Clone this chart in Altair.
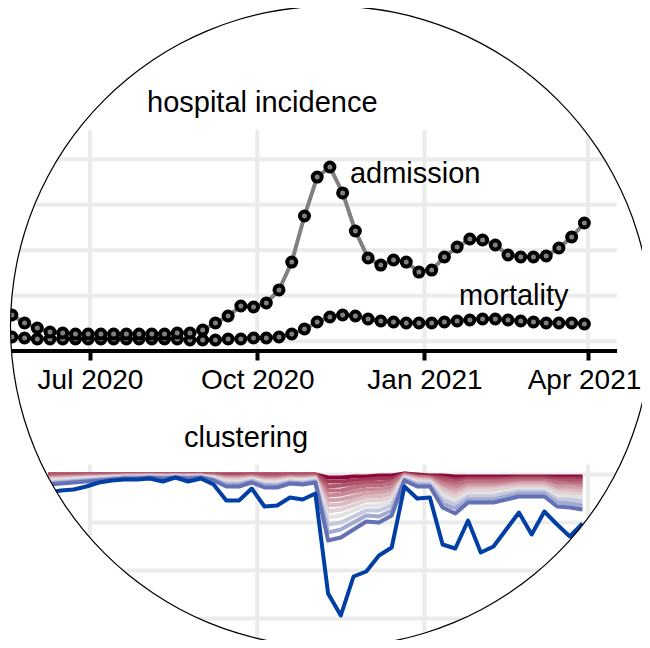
import altair as alt
import pandas as pd

FONT = "Liberation Sans, Arial, Helvetica, sans-serif"
GRID = "#ebebeb"
W, H = 634, 632

# ---------------- top panel: hospital incidence (weekly) ----------------
top_start = "2020-05-19"
admission = [28.8, 20.0, 14.5, 10.1, 9.0, 7.9, 7.9, 7.9, 7.9, 7.9, 7.9, 7.9, 7.9, 9.0,
             9.0, 12.3, 20.0, 27.7, 38.7, 37.6, 42.0, 56.3, 87.0, 137.6, 180.4, 191.4,
             162.9, 121.1, 91.4, 83.7, 89.2, 87.0, 76.0, 78.2, 92.5, 103.5, 112.3, 111.2,
             105.7, 94.7, 92.5, 92.5, 93.6, 102.4, 114.5, 129.9]
mortality = [4.6, 3.5, 2.4, 2.4, 2.4, 2.4, 2.4, 2.4, 2.4, 2.4, 2.4, 2.4, 2.4, 2.4,
             1.3, 1.3, 1.3, 2.4, 2.4, 3.5, 3.5, 4.6, 7.9, 13.4, 21.1, 26.6, 28.8, 27.7,
             24.4, 22.2, 21.1, 20.0, 20.0, 20.0, 21.1, 22.2, 23.3, 24.4, 24.4, 23.3,
             22.2, 21.1, 20.0, 20.0, 20.0, 18.9]

# ---------------- bottom panel: clustering (drop below upper bound) ----------------
bottom_start = "2020-06-08"
cluster_lines = {
    "q00": [0]*22 + [3, 3, 2, 2, 1, 1, -1, 0, 1, 1] + [2]*11,
    "q01": [0]*22 + [7, 7, 6, 5, 4, 4, -1, 1, 2, 3, 5, 4, 4, 4, 4, 3, 3, 3, 4, 4, 4],
    "q02": [0, 0, 0, 0, 0, 0, 0, 0, 0, 0, 0, 0, 0, 0, 1, 1, 0, 1, 1, 0, 0, 0, 12, 11, 9, 8, 8, 7, 0, 2, 3, 5, 7, 6, 6, 6, 5, 5, 5, 5, 6, 6, 7],
    "q03": [2, 2, 2, 1, 1, 1, 1, 1, 1, 1, 1, 1, 1, 1, 3, 3, 2, 3, 3, 2, 2, 2, 16, 16, 13, 11, 11, 9, 0, 3, 3, 8, 10, 7, 7, 7, 7, 6, 6, 6, 8, 9, 9],
    "q04": [3, 3, 2, 2, 2, 1, 1, 1, 1, 1, 1, 1, 1, 2, 3, 3, 2, 4, 4, 3, 3, 2, 21, 20, 17, 15, 15, 13, 1, 3, 4, 10, 13, 10, 10, 10, 9, 8, 8, 8, 11, 11, 12],
    "q05": [4, 3, 3, 3, 2, 2, 1, 1, 1, 1, 1, 1, 1, 2, 4, 4, 3, 5, 5, 3, 4, 3, 26, 25, 22, 19, 18, 16, 2, 4, 5, 13, 16, 12, 12, 12, 11, 9, 9, 9, 13, 13, 14],
    "q06": [5, 4, 4, 3, 3, 2, 2, 2, 1, 2, 1, 2, 1, 3, 5, 5, 4, 6, 6, 4, 5, 4, 31, 30, 26, 22, 22, 19, 2, 5, 6, 15, 19, 14, 14, 14, 12, 11, 11, 11, 16, 16, 17],
    "q07": [5, 5, 4, 4, 3, 3, 2, 2, 2, 2, 2, 2, 2, 3, 6, 6, 4, 7, 7, 5, 5, 4, 37, 35, 31, 26, 26, 23, 3, 6, 7, 18, 22, 16, 16, 16, 14, 13, 13, 13, 18, 19, 20],
    "q08": [6, 6, 5, 4, 4, 3, 3, 3, 2, 3, 2, 3, 2, 4, 8, 8, 5, 8, 8, 6, 6, 5, 43, 41, 36, 31, 31, 27, 3, 8, 8, 21, 26, 19, 19, 19, 17, 15, 15, 15, 21, 22, 23],
    "q09": [8, 7, 6, 5, 5, 4, 3, 3, 2, 3, 2, 3, 2, 5, 9, 9, 6, 10, 10, 7, 8, 6, 50, 48, 42, 36, 36, 31, 4, 9, 9, 25, 30, 22, 22, 22, 19, 17, 17, 17, 25, 25, 27],
    "q10": [9, 8, 7, 6, 5, 4, 3, 3, 3, 3, 3, 3, 3, 5, 10, 10, 7, 11, 11, 8, 9, 7, 58, 55, 48, 41, 42, 36, 5, 10, 11, 29, 34, 25, 25, 25, 22, 19, 19, 19, 28, 29, 31],
    "q11": [10, 9, 8, 7, 6, 5, 4, 4, 3, 4, 3, 4, 3, 6, 12, 12, 8, 13, 13, 9, 10, 8, 66, 63, 55, 47, 48, 41, 6, 12, 12, 33, 39, 28, 28, 28, 25, 22, 22, 22, 32, 33, 35],
    "q12": [18, 16, 15, 12, 8, 6, 5, 5, 4, 7, 3, 7, 4, 10, 26, 26, 14, 32, 31, 23, 25, 19, 119, 141, 102, 97, 81, 73, 12, 24, 23, 70, 74, 46, 78, 72, 55, 38, 60, 37, 50, 62, 49],
}
line_colors = ["#8E063B", "#A03A58", "#AF566C", "#BC6F80", "#C88896", "#D2A1AB",
               "#DBBAC0", "#E2D1D4", "#E2E2E2", "#C4C9E0", "#A2AAD2", "#6571B5", "#023FA5"]

tick_dates = ["2020-07-01", "2020-10-01", "2021-01-01", "2021-04-01"]
top_grid_values = [0, 50, 100, 150, 200]
bottom_grid_values = [0, 48, 96, 144]
axis_level = -10.8          # top-panel value where the x axis sits
top_grid_span = (-10.8, 232)
bottom_grid_span = (-10, 200)
grid_left, grid_right = "2020-04-01", "2021-04-17"

# ---------------- data frames ----------------
top_dates = pd.date_range(top_start, periods=len(admission), freq="7D").strftime("%Y-%m-%d")
top_df = pd.DataFrame({"date": top_dates, "admission": admission, "mortality": mortality})

bottom_dates = pd.date_range(bottom_start, periods=len(cluster_lines["q00"]), freq="7D").strftime("%Y-%m-%d")
bottom_df = pd.DataFrame([
    {"date": d, "line": k, "drop": v}
    for k, vals in cluster_lines.items() for d, v in zip(bottom_dates, vals)
])

# ---------------- scales ----------------
xscale = alt.Scale(type="utc", nice=False, domain=[
    alt.DateTime(year=2020, month=5, date=16, hours=21, minutes=12, utc=True),
    alt.DateTime(year=2021, month=4, date=30, hours=17, minutes=3, utc=True)])
xaxis = alt.Axis(values=[alt.DateTime(year=2020, month=7, date=1, utc=True),
                         alt.DateTime(year=2020, month=10, date=1, utc=True),
                         alt.DateTime(year=2021, month=1, date=1, utc=True),
                         alt.DateTime(year=2021, month=4, date=1, utc=True)],
                 labelExpr="utcFormat(datum.value, '%b %Y')", grid=False, domain=False,
                 ticks=True, tickColor="black", tickWidth=4, tickSize=9,
                 labelFont=FONT, labelFontSize=28, labelColor="black",
                 labelPadding=28, labelBaseline="alphabetic", labelOverlap=False,
                 labelOffset={"condition": {"test": "utcmonth(datum.value) == 3", "value": -4}, "value": 0},
                 labelFlush=False, offset=343 - H, title=None)
yt = alt.Scale(domain=[-(H - 333.2) / 0.91, 333.2 / 0.91], nice=False, zero=False)
yb = alt.Scale(domain=[-466.5, H - 466.5], reverse=True, nice=False, zero=False)


def X(field):
    return alt.X(field, type="temporal", scale=xscale, axis=xaxis)


# ---------------- grid & axis line ----------------
top_h = alt.Chart(pd.DataFrame({"v": top_grid_values, "a": grid_left, "b": grid_right})).mark_rule(
    color=GRID, strokeWidth=4).encode(x=X("a"), x2="b:T", y=alt.Y("v:Q", scale=yt, axis=None))
top_v = alt.Chart(pd.DataFrame({"t": tick_dates, "lo": top_grid_span[0], "hi": top_grid_span[1]})).mark_rule(
    color=GRID, strokeWidth=4).encode(x=X("t"), y=alt.Y("lo:Q", scale=yt, axis=None), y2="hi:Q")
bot_h = alt.Chart(pd.DataFrame({"v": bottom_grid_values, "a": tick_dates[0], "b": grid_right})).mark_rule(
    color=GRID, strokeWidth=4).encode(x=X("a"), x2="b:T", y=alt.Y("v:Q", scale=yb, axis=None))
bot_v = alt.Chart(pd.DataFrame({"t": tick_dates, "lo": bottom_grid_span[0], "hi": bottom_grid_span[1]})).mark_rule(
    color=GRID, strokeWidth=4).encode(x=X("t"), y=alt.Y("lo:Q", scale=yb, axis=None), y2="hi:Q")
axis_line = alt.Chart(pd.DataFrame({"v": [axis_level], "a": grid_left, "b": grid_right})).mark_rule(
    color="black", strokeWidth=4).encode(x=X("a"), x2="b:T", y=alt.Y("v:Q", scale=yt, axis=None))

# ---------------- bottom lines ----------------
clust = alt.Chart(bottom_df).mark_line(strokeWidth=4, strokeJoin="round").encode(
    x=X("date"),
    y=alt.Y("drop:Q", scale=yb, axis=None),
    color=alt.Color("line:N", scale=alt.Scale(domain=list(cluster_lines.keys()), range=line_colors), legend=None),
)

# ---------------- top series ----------------
base = alt.Chart(top_df)
pt = dict(shape="circle", size=81, filled=True, fill="#808080", stroke="black", strokeWidth=4, opacity=1)
mort_line = base.mark_line(color="#808080", strokeWidth=4).encode(x=X("date"), y=alt.Y("mortality:Q", scale=yt, axis=None))
mort_pts = base.mark_point(**pt).encode(x=X("date"), y=alt.Y("mortality:Q", scale=yt, axis=None))
adm_line = base.mark_line(color="#808080", strokeWidth=4).encode(x=X("date"), y=alt.Y("admission:Q", scale=yt, axis=None))
adm_pts = base.mark_point(**pt).encode(x=X("date"), y=alt.Y("admission:Q", scale=yt, axis=None))

# ---------------- labels ----------------
series_labels = pd.DataFrame({"date": ["2020-11-21", "2021-01-20"], "v": [173.8, 39.8],
                              "label": ["admission", "mortality"]})
lab = alt.Chart(series_labels).mark_text(font=FONT, fontSize=29, color="black", align="left",
                                         baseline="alphabetic").encode(
    x=X("date"), y=alt.Y("v:Q", scale=yt, axis=None), text="label:N")
title1 = alt.Chart(pd.DataFrame({"t": ["hospital incidence"]})).mark_text(
    font=FONT, fontSize=29, color="black", align="left", baseline="alphabetic").encode(
    x=alt.value(139), y=alt.value(104), text="t:N")
title2 = alt.Chart(pd.DataFrame({"t": ["clustering"]})).mark_text(
    font=FONT, fontSize=29, color="black", align="left", baseline="alphabetic").encode(
    x=alt.value(176), y=alt.value(439), text="t:N")

# ---------------- circular frame ----------------
one = pd.DataFrame({"k": [0]})
mask = alt.Chart(one).mark_arc(theta=0, theta2=6.2832, radius=900, radius2=320.5, color="white",
                               fill="white", strokeWidth=0).encode(x=alt.value(323), y=alt.value(318.5))
ring = alt.Chart(one).mark_arc(theta=0, theta2=6.2832, radius=321.1, radius2=319.9, color="black",
                               fill="black", strokeWidth=0).encode(x=alt.value(323), y=alt.value(318.5))

chart = alt.layer(
    top_h, top_v, bot_h, bot_v, axis_line, clust,
    mort_line, mort_pts, adm_line, adm_pts,
    lab, title1, title2, mask, ring,
).resolve_scale(y="independent").properties(
    width=W, height=H, padding=0, autosize=alt.AutoSizeParams(type="none")
).configure_view(stroke=None)

chart.save("out.html", embed_options={"renderer": "svg", "actions": False})
